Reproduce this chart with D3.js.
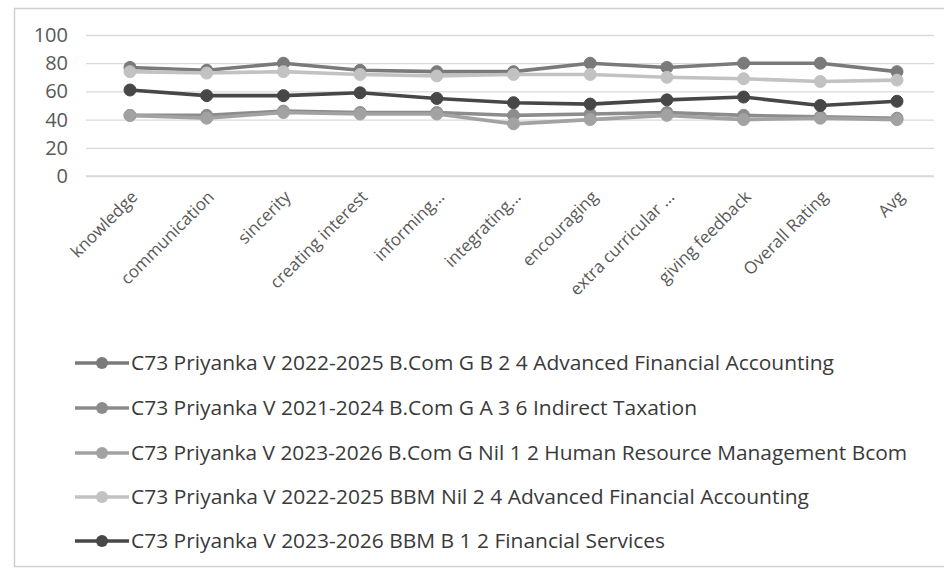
<!DOCTYPE html>
<html>
<head>
<meta charset="utf-8">
<script src="https://cdn.jsdelivr.net/npm/d3@7"></script>
<style>
  html, body { margin: 0; padding: 0; background: #ffffff; }
  svg { display: block; }
  text { font-family: "Open Sans", "Liberation Sans", sans-serif; }
</style>
</head>
<body>
<svg id="chart" width="944" height="574"></svg>
<script>
// Rating criteria along the x axis
const categories = ["knowledge", "communication", "sincerity", "creating interest", "informing...",
  "integrating...", "encouraging", "extra curricular ...", "giving feedback", "Overall Rating", "Avg"];

// Y axis ticks
const yTicks = [0, 20, 40, 60, 80, 100];

// Series names (legend order)
const seriesNames = [
  "C73 Priyanka V 2022-2025 B.Com G B 2 4 Advanced Financial Accounting",
  "C73 Priyanka V 2021-2024 B.Com G A 3 6 Indirect Taxation",
  "C73 Priyanka V 2023-2026 B.Com G Nil 1 2 Human Resource Management Bcom",
  "C73 Priyanka V 2022-2025 BBM Nil 2 4 Advanced Financial Accounting",
  "C73 Priyanka V 2023-2026 BBM B 1 2 Financial Services"
];

// Scores per criterion, one array per series
const bcomGB24 = [77, 75, 80, 75, 74, 74, 80, 77, 80, 80, 74];
const bcomGA36 = [43, 43, 46, 45, 45, 43, 44, 45, 43, 42, 41];
const bcomGNil12 = [43, 41, 45, 44, 44, 37, 40, 43, 40, 41, 40];
const bbmNil24 = [74, 73, 74, 72, 71, 72, 72, 70, 69, 67, 68];
const bbmB12 = [61, 57, 57, 59, 55, 52, 51, 54, 56, 50, 53];

const seriesValues = [bcomGB24, bcomGA36, bcomGNil12, bbmNil24, bbmB12];
const seriesColors = ["#7a7a7a", "#8c8c8c", "#a2a2a2", "#c2c2c2", "#474747"];

const svg = d3.select("#chart");

// outer chart frame
svg.append("rect")
  .attr("x", 14.5).attr("y", 8.5)
  .attr("width", 940).attr("height", 558)
  .attr("fill", "#ffffff")
  .attr("stroke", "#d0d0d0")
  .attr("stroke-width", 1.5);

const x = d3.scalePoint().domain(categories).range([130, 897]);
const y = d3.scaleLinear().domain([0, 100]).range([176, 35]);
const plotLeft = 86, plotRight = 934;

// horizontal gridlines + y labels
const yAxis = d3.axisLeft(y).tickValues(yTicks).tickSize(-(plotRight - plotLeft)).tickPadding(18);
const gy = svg.append("g").attr("transform", `translate(${plotLeft},0)`).call(yAxis);
gy.select(".domain").remove();
gy.selectAll(".tick line").attr("stroke", "#d9d9d9").attr("stroke-width", 1.3);
gy.selectAll(".tick text")
  .attr("fill", "#595959")
  .style("font-size", "20px");

// x labels, rotated
const xAxis = d3.axisBottom(x).tickSize(0).tickPadding(0);
const gx = svg.append("g").attr("transform", "translate(0,176)").call(xAxis);
gx.select(".domain").attr("stroke", "#d9d9d9").attr("stroke-width", 1.3)
  .attr("d", `M${plotLeft},0H${plotRight}`);
gx.selectAll(".tick text")
  .attr("fill", "#595959")
  .style("font-size", "17px")
  .attr("text-anchor", "end")
  .attr("dy", "0")
  .attr("transform", "translate(8,22) rotate(-45)");

// lines and markers
const line = d3.line()
  .x((d, i) => x(categories[i]))
  .y(d => y(d));

seriesValues.forEach((vals, si) => {
  const g = svg.append("g");
  g.append("path")
    .datum(vals)
    .attr("fill", "none")
    .attr("stroke", seriesColors[si])
    .attr("stroke-width", 3.6)
    .attr("stroke-linejoin", "round")
    .attr("d", line);
  g.selectAll("circle")
    .data(vals)
    .join("circle")
    .attr("cx", (d, i) => x(categories[i]))
    .attr("cy", d => y(d))
    .attr("r", 6)
    .attr("fill", seriesColors[si])
    .attr("stroke", seriesColors[si]);
});

// legend
const legendY = [363, 408, 453, 497, 541];
const legendWidths = [703, 566, 776, 678, 534];
seriesNames.forEach((name, si) => {
  const g = svg.append("g").attr("transform", `translate(0,${legendY[si]})`);
  g.append("line")
    .attr("x1", 75).attr("x2", 129).attr("y1", 0).attr("y2", 0)
    .attr("stroke", seriesColors[si]).attr("stroke-width", 3.6);
  g.append("circle")
    .attr("cx", 102).attr("cy", 0).attr("r", 6)
    .attr("fill", seriesColors[si]);
  g.append("text")
    .attr("x", 131).attr("y", 0).attr("dy", "0.35em")
    .attr("fill", "#3a3a3a")
    .style("font-size", "20px")
    .attr("textLength", legendWidths[si])
    .attr("lengthAdjust", "spacingAndGlyphs")
    .text(name);
});
</script>
</body>
</html>
